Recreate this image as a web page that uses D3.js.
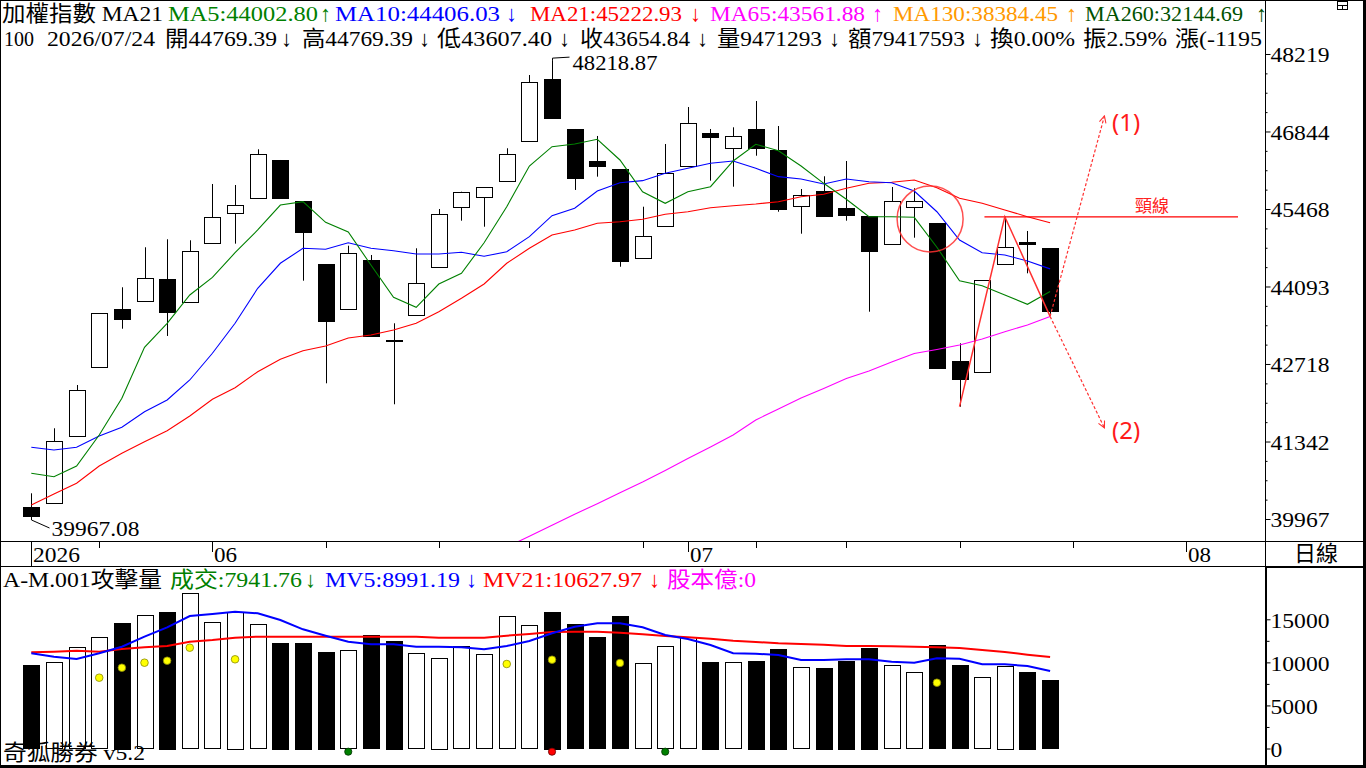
<!DOCTYPE html>
<html>
<head>
<meta charset="utf-8">
<script src="https://cdn.jsdelivr.net/npm/d3@7"></script>
<style>
html, body { margin: 0; padding: 0; background: #fff; overflow: hidden; }
svg { display: block; }
text { font-family: "Liberation Serif", "Noto Sans CJK TC", serif; font-size: 22px; }
</style>
</head>
<body>
<svg id="chart" width="1366" height="768"></svg>
<script>
// daily candles (46 trading days, last = 2026/07/24)
const open  = [40175,40256,41428,42659,43694,43830,44221,43813,44860,45385,45658,46338,45610,44492,43688,44563,43150,43582,44434,45504,45676,45960,46670,47775,46888,46326,46178,44593,45167,46219,46812,46546,46883,46515,45516,45788,45486,45344,44842,45499,45220,42771,42570,44505,44877,44769.39];
const high  = [40423,41577,42345,43617,44079,44789,44931,44913,45912,45894,46528,46338,45610,44492,44817,44652,43440,44771,45468,45775,45853,46546,47846,48110,46888,46764,46178,45509,46622,47278,46888,46918,47385,46941,45823,46049,46320,45344,45859,45836,45220,43085,44208,45332,45078,44769.39];
const low   = [39967.08,40256,41428,42659,43344,43830,43215,43813,44860,44853,45658,45669,44196,42375,43688,43215,42003,43582,44434,45261,45154,45960,46670,47089,45806,46042,44444,44593,45167,46219,45971,45864,46414,45420,45030,45332,45261,43646,44842,44959,42652,41960,42570,44505,44327,43607.40];
const close = [40008,41351,42251,43617,43522,44239,43628,44718,45321,45534,46439,45669,45066,43486,44682,43215,43140,44150,45374,45775,45853,46439,47717,47089,46024,46231,44551,44984,46102,46989,46734,46759,46546,45474,45711,45349,45367,44728,45605,45605,42652,42446,44208,44799,44842,43654.84];

const ma5  = [40778,40718,40908,41458,42109,43014,43440,43942,44256,44693,45096,45539,45598,45232,45060,44475,43901,43724,44137,44327,44870,45509,46231,46574,46622,46705,46338,45775,45570,45775,45864,46320,46617,46503,46231,45924,45641,45332,45332,45321,44789,44196,44107,43942,43777,44002.80];
const ma10 = [41239,41192,41239,41440,41594,41871,42079,42434,42908,43440,44061,44505,44771,44753,44870,44771,44728,44670,44670,44700,44629,44711,44977,45349,45481,45788,45935,45971,46102,46191,46279,46320,46191,46042,46001,45912,46001,45953,45935,45788,45420,44918,44693,44652,44546,44406.03];
const ma21 = [40216,40411,40601,40908,41133,41339,41534,41795,42091,42297,42581,42801,42954,43037,43179,43232,43321,43440,43646,43884,44137,44505,44771,45007,45096,45215,45243,45286,45376,45420,45491,45527,45557,45598,45687,45729,45836,45924,45942,45983,45846,45658,45570,45451,45332,45222.93];
const ma65 = [null,null,null,null,null,null,null,null,null,null,null,null,null,null,null,null,null,null,null,null,null,
  39470,39660,39855,40051,40239,40434,40624,40828,41041,41245,41458,41724,41919,42114,42283,42460,42594,42753,42904,42975,43055,43161,43291,43410,43561.88];
const ma130Last = 38384.45, ma260Last = 32144.69;

const vol  = [9694,10008,11749,12910,14571,15465,15848,18019,14652,15882,14420,12249,12249,11204,11401,13143,12481,11053,10507,11900,10937,15348,14304,15848,14454,12945,15383,9892,11865,12910,10043,10008,10159,11552,9427,9346,10159,11668,9659,8847,12016,9694,8301,9613,8882,7941.76];
const mv5  = [11053,10658,10391,11053,11819,12980,14071,15383,15615,15882,15697,14919,13839,13096,12399,12098,12098,11819,11819,11749,11517,11900,12481,13375,14141,14536,14536,14071,13177,12713,12016,11053,11006,10855,10275,10275,10356,10356,10077,9961,10472,10426,9776,9776,9578,8991.19];
const mv21 = [11169,11238,11355,11238,11552,11749,11900,12399,12597,12864,12980,12980,12980,12980,12980,12980,12980,12980,12864,12864,12864,13096,13293,13526,13560,13560,13444,13259,13061,12910,12748,12516,12365,12214,12132,12051,11900,11900,11865,11819,11749,11668,11436,11204,10890,10627.97];

const yellowIdx = [3,4,5,6,7,9,21,23,26,40];
const yellowVal = [8220,9381,9961,10194,11703,10356,9810,10310,9927,7639];
const greenSigIdx = [14,28];
const redSigIdx = [23];

const priceTicks = [39967,41342,42718,44093,45468,46844,48219];
const volTicks = [0,5000,10000,15000];
const weekTicks = [3,8,13,18,22,27,32,36,41,46];
const monthIdx = [8,29,51];
const monthLbl = ["06","07","08"];

const hiLabel = "48218.87", loLabel = "39967.08";
const lastDate = "2026/07/24", lastAmt = "9471293", lastVal = "79417593";

// hand-drawn pattern notes (index, price)
const zigIdx = [41,43,45];
const zigPx  = [41960,45332,43561.88];
const neckFrom = 42.1, neckTo = 53.3, neckPx = 45330;
const circIdx = 39.7, circPx = 45291;
const arrowTo = [[47.4,47119],[47.4,41582]];

// ---- scales ----
const W = 1366, H = 768, axisX = 1265;
const x  = d3.scaleLinear().domain([0,45]).range([31.3,1050.1]);
const yP = d3.scaleLinear().domain([39967.08,48218.87]).range([519,54]);
const yV = d3.scaleLinear().domain([0,15000]).range([748.5,619.3]);
const fmt2 = d3.format(".2f");

const svg = d3.select("#chart");
svg.append("rect").attr("width",W).attr("height",H).attr("fill","#fff");

const defs = svg.append("defs");
defs.append("clipPath").attr("id","cpMain").append("rect").attr("x",0).attr("y",0).attr("width",axisX).attr("height",541);
defs.append("clipPath").attr("id","cpHdr").append("rect").attr("x",0).attr("y",0).attr("width",axisX).attr("height",50);
defs.append("marker").attr("id","arr").attr("viewBox","0 0 10 10").attr("refX",9).attr("refY",5)
  .attr("markerWidth",7).attr("markerHeight",7).attr("orient","auto-start-reverse")
  .append("path").attr("d","M1,1 L9,5 L1,9").attr("fill","none").attr("stroke","#ff3030").attr("stroke-width",1.3);

// ---- header text ----
function seg(g, s, y) {
  s.forEach(d => {
    const t = g.append("text").attr("x", d[2]).attr("y", y).attr("fill", d[1]).text(d[0]);
    if (d[3]) t.attr("textLength", d[3]-d[2]).attr("lengthAdjust","spacingAndGlyphs");
  });
}
const hdr = svg.append("g").attr("clip-path","url(#cpHdr)");
const last = ma5.length-1;
seg(hdr, [
  ["加權指數 MA21","#000",2,163],
  ["MA5:"+fmt2(ma5[last]),"#008000",168,318], ["↑","#008000",320],
  ["MA10:"+fmt2(ma10[last]),"#0000ff",335,500], ["↓","#0000ff",506],
  ["MA21:"+fmt2(ma21[last]),"#ff0000",530,682], ["↓","#ff0000",690],
  ["MA65:"+fmt2(ma65[last]),"#ff00ff",710,865], ["↑","#ff00ff",872],
  ["MA130:"+fmt2(ma130Last),"#ff9900",893,1058], ["↑","#ff9900",1066],
  ["MA260:"+fmt2(ma260Last),"#005000",1085,1243], ["↑","#005000",1256]
], 20.5);
seg(hdr, [
  ["100","#000",4,34], [lastDate,"#000",47,155],
  ["開"+fmt2(open[last]),"#000",165,277], ["↓","#000",281],
  ["高"+fmt2(high[last]),"#000",302,413], ["↓","#000",419],
  ["低"+fmt2(low[last]),"#000",437,552], ["↓","#000",559],
  ["收"+fmt2(close[last]),"#000",580,690], ["↓","#000",697],
  ["量"+lastAmt,"#000",717,822], ["↓","#000",829],
  ["額"+lastVal,"#000",848,965], ["↓","#000",972],
  ["換0.00%","#000",990,1075], ["振2.59%","#000",1083,1167],
  ["漲(-1195","#000",1175,1262]
], 46);

// ---- candles ----
const main = svg.append("g").attr("clip-path","url(#cpMain)");
const cx = i => Math.round(x(i));
const candles = main.selectAll("g.c").data(open.map((o,i)=>i)).enter().append("g");
candles.append("line")
  .attr("x1", i => cx(i)+0.5).attr("x2", i => cx(i)+0.5)
  .attr("y1", i => yP(high[i])).attr("y2", i => yP(low[i]))
  .attr("stroke","#000").attr("stroke-width",1);
candles.append("rect")
  .attr("x", i => cx(i)-7.5).attr("width",16)
  .attr("y", i => Math.round(yP(Math.max(open[i],close[i])))+0.5)
  .attr("height", i => Math.max(1, Math.round(Math.abs(yP(open[i])-yP(close[i])))))
  .attr("fill", i => close[i] < open[i] ? "#000" : "#fff")
  .attr("stroke","#000").attr("stroke-width",1);

// ---- moving averages ----
const mline = d3.line().defined(d => d != null).x((d,i) => x(i)).y(d => yP(d));
[[ma65,"#ff00ff"],[ma21,"#ff0000"],[ma10,"#0000ff"],[ma5,"#008000"]].forEach(s => {
  main.append("path").datum(s[0]).attr("d", mline).attr("fill","none").attr("stroke", s[1]).attr("stroke-width",1.1);
});

// extreme labels
const hx = cx(23)+0.5, hy = yP(high[23]);
main.append("path").attr("d",`M${hx},${hy} L${hx},${hy-2} L${hx+17},${hy-3}`).attr("fill","none").attr("stroke","#000");
main.append("text").attr("x",hx+20).attr("y",hy+10).attr("textLength",85).attr("lengthAdjust","spacingAndGlyphs").text(hiLabel);
const lx = cx(0)+0.5, ly = yP(low[0]);
main.append("path").attr("d",`M${lx},${ly-2} L${lx},${ly+1} L${lx+18},${ly+9}`).attr("fill","none").attr("stroke","#000");
main.append("text").attr("x",lx+20).attr("y",ly+17).attr("textLength",88).attr("lengthAdjust","spacingAndGlyphs").text(loLabel);

// ---- annotations ----
const ann = svg.append("g");
ann.append("circle").attr("cx", x(circIdx)).attr("cy", yP(circPx)).attr("r",33)
  .attr("fill","none").attr("stroke","#ff3030").attr("stroke-opacity",0.85).attr("stroke-width",1.5);
ann.append("line").attr("x1", x(neckFrom)).attr("x2", x(neckTo)).attr("y1", yP(neckPx)).attr("y2", yP(neckPx))
  .attr("stroke","#ff0000").attr("stroke-width",1.2);
ann.append("text").attr("x",1135).attr("y",212).attr("fill","#ff2020")
  .style("font-family","'Noto Sans CJK TC'").style("font-size","17px").text("頸線");
ann.append("path").datum(zigIdx.map((d,k)=>[x(d), yP(zigPx[k])]))
  .attr("d", d3.line()).attr("fill","none").attr("stroke","#ff3030").attr("stroke-width",1.5);
const ex = x(45), ey = yP(ma65[last]);
arrowTo.forEach((a,k) => {
  ann.append("line").attr("x1",ex).attr("y1",ey).attr("x2",x(a[0])).attr("y2",yP(a[1]))
    .attr("stroke","#ff3030").attr("stroke-width",1.2).attr("stroke-dasharray","3,2")
    .attr("marker-end","url(#arr)");
  ann.append("text").attr("x",1112).attr("y", k === 0 ? 131 : 439).attr("fill","#ff1a1a")
    .style("font-family","'Noto Sans', sans-serif").style("font-size","24px").text(k === 0 ? "(1)" : "(2)");
});

// ---- date strip ----
const ds = svg.append("g");
ds.append("line").attr("x1",cx(0)+0.5).attr("x2",cx(0)+0.5).attr("y1",541).attr("y2",566).attr("stroke","#000");
ds.append("text").attr("x",33).attr("y",562).attr("textLength",47).attr("lengthAdjust","spacingAndGlyphs").text("2026");
ds.selectAll("line.wk").data(weekTicks).enter().append("line")
  .attr("x1", d => cx(d)+0.5).attr("x2", d => cx(d)+0.5).attr("y1",541).attr("y2",548).attr("stroke","#000");
ds.selectAll("line.mo").data(monthIdx).enter().append("line")
  .attr("x1", d => cx(d)+0.5).attr("x2", d => cx(d)+0.5).attr("y1",541).attr("y2",552).attr("stroke","#000");
ds.selectAll("text.mo").data(monthIdx).enter().append("text")
  .attr("x", d => cx(d)+2).attr("y",562).attr("textLength",23).attr("lengthAdjust","spacingAndGlyphs")
  .text((d,k) => monthLbl[k]);
ds.append("text").attr("x",1294).attr("y",561).attr("textLength",44).attr("lengthAdjust","spacingAndGlyphs").text("日線");

// ---- volume panel ----
const vp = svg.append("g");
vp.selectAll("rect.v").data(vol).enter().append("rect")
  .attr("x",(d,i) => cx(i)-7.5).attr("width",16)
  .attr("y", d => Math.round(yV(d))+0.5)
  .attr("height", d => Math.round(yV(0)-yV(d)))
  .attr("fill",(d,i) => close[i] < open[i] ? "#000" : "#fff")
  .attr("stroke","#000");
const vline = d3.line().x((d,i) => x(i)).y(d => yV(d));
vp.append("path").datum(mv21).attr("d",vline).attr("fill","none").attr("stroke","#ff0000").attr("stroke-width",2);
vp.append("path").datum(mv5).attr("d",vline).attr("fill","none").attr("stroke","#0000ff").attr("stroke-width",2);
vp.selectAll("circle.y").data(yellowIdx).enter().append("circle")
  .attr("cx", d => x(d)).attr("cy",(d,k) => yV(yellowVal[k])).attr("r",3.8)
  .attr("fill","#ffff00").attr("stroke","#8a8a00").attr("stroke-width",0.8);
vp.selectAll("circle.g").data(greenSigIdx).enter().append("circle")
  .attr("cx", d => x(d)).attr("cy",751.7).attr("r",3.6).attr("fill","#008000").attr("stroke","#003000").attr("stroke-width",0.8);
vp.selectAll("circle.r").data(redSigIdx).enter().append("circle")
  .attr("cx", d => x(d)).attr("cy",751.7).attr("r",3.6).attr("fill","#ff0000").attr("stroke","#600000").attr("stroke-width",0.8);

seg(vp, [
  ["A-M.001攻擊量","#000",3,162],
  ["成交:"+fmt2(vol[last]),"#008000",170,302], ["↓","#008000",305],
  ["MV5:"+fmt2(mv5[last]),"#0000ff",325,460], ["↓","#0000ff",466],
  ["MV21:"+fmt2(mv21[last]),"#ff0000",483,642], ["↓","#ff0000",649],
  ["股本億:0","#ff00ff",667,756]
], 586.5);
seg(vp, [["奇狐勝券 v5.2","#000",3,145]], 760);

// ---- axes ----
svg.append("g").attr("transform",`translate(${axisX+0.5},0)`)
  .call(d3.axisRight(yP).tickValues(priceTicks).tickSize(5).tickPadding(0).tickFormat(d3.format("d")));
const minorP = [];
priceTicks.slice(0,-1).forEach((t,k) => { const s = (priceTicks[k+1]-t)/4; minorP.push(t+s,t+2*s,t+3*s); });
svg.append("g").attr("transform",`translate(${axisX+0.5},0)`)
  .call(d3.axisRight(yP).tickValues(minorP).tickSize(2).tickFormat(""));
const vAx = svg.append("g").attr("transform",`translate(${axisX+0.5},0)`)
  .call(d3.axisRight(yV).tickValues(volTicks).tickSize(5).tickPadding(0).tickFormat(d3.format("d")));
svg.append("g").attr("transform",`translate(${axisX+0.5},0)`)
  .call(d3.axisRight(yV).tickValues([2500,7500,12500]).tickSize(4).tickFormat(""));
svg.selectAll(".domain").remove();
svg.selectAll(".tick line").attr("stroke","#000");
svg.selectAll(".tick text").attr("fill","#000").style("font-size","22px")
  .style("font-family","'Liberation Serif', serif").attr("dy","0.36em")
  .attr("textLength",59).attr("lengthAdjust","spacingAndGlyphs");
vAx.selectAll(".tick text").attr("textLength", d => String(d).length*11.8);

// ---- frame ----
const fr = svg.append("g").attr("stroke","#000").attr("fill","none");
fr.append("rect").attr("x",0.5).attr("y",0.5).attr("width",W-1).attr("height",H-1);
fr.append("line").attr("x1",0).attr("x2",W).attr("y1",541.5).attr("y2",541.5);
fr.append("line").attr("x1",0).attr("x2",W).attr("y1",566.5).attr("y2",566.5);
fr.append("line").attr("x1",axisX+0.5).attr("x2",axisX+0.5).attr("y1",0).attr("y2",H);
fr.append("line").attr("x1",axisX+1).attr("x2",axisX+1).attr("y1",566).attr("y2",H).attr("stroke-width",2);
fr.append("line").attr("x1",axisX).attr("x2",W).attr("y1",567).attr("y2",567).attr("stroke-width",2);
fr.append("line").attr("x1",W-1.5).attr("x2",W-1.5).attr("y1",0).attr("y2",H).attr("stroke-width",3);
fr.append("line").attr("x1",0).attr("x2",W).attr("y1",H-1.5).attr("y2",H-1.5).attr("stroke-width",3);
// small window icon top right
fr.append("rect").attr("x",1337.5).attr("y",1.5).attr("width",10).attr("height",8);
fr.append("line").attr("x1",1337.5).attr("x2",1347.5).attr("y1",5.5).attr("y2",5.5);
fr.append("line").attr("x1",1342.5).attr("x2",1342.5).attr("y1",5.5).attr("y2",9.5);
</script>
</body>
</html>
